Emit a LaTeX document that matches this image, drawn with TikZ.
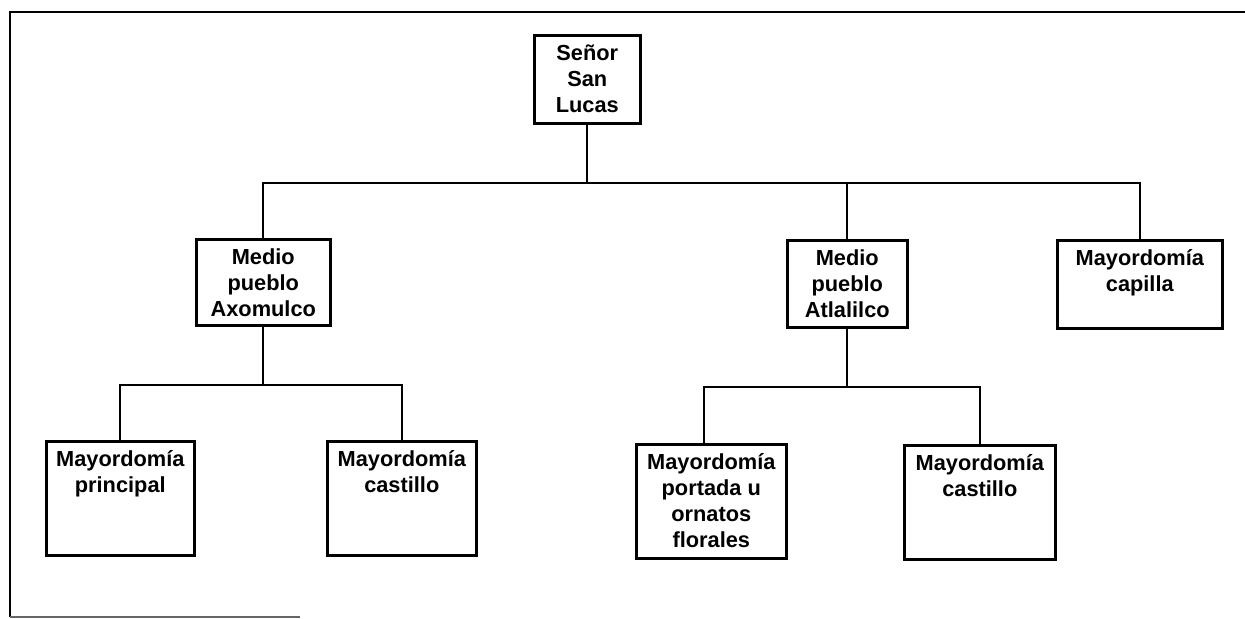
\documentclass[tikz,border=0pt]{standalone}
\usepackage{fontspec}
\setmainfont{Liberation Sans}
\usetikzlibrary{positioning}

% texto alineado arriba dentro de una caja de ancho y alto fijos
\newcommand{\caja}[3]{\parbox[c][#2][t]{#1}{\centering\rule{0pt}{0.5cm}#3}}

\begin{document}
\begin{tikzpicture}[
        x=0.02cm, y=-0.02cm,
        cargo/.style={rectangle, draw=black, line width=1.5pt, inner sep=0pt, anchor=north west,
            font=\fontsize{12.4}{14.8}\selectfont\bfseries},
        rama/.style={draw=black, line width=1.2pt},
        marco/.style={draw=black, line width=1.6pt}
    ]
        \useasboundingbox (0,0) rectangle (1245,619);

        % ================= MARCO =================
        \draw[marco] (1245,12) -- (10,12) -- (10,617);
        \draw[marco, black!60] (10,617) -- (300,617);

        % ================= CARGOS =================

        % Nivel superior
        \node[cargo] (senor) at (533,34) {\caja{2.12cm}{1.76cm}{Señor\\San\\Lucas}};

        % Medios pueblos y capilla
        \node[cargo] (axomulco) at (195,238) {\caja{2.68cm}{1.72cm}{Medio\\pueblo\\Axomulco}};
        \node[cargo] (atlalilco) at (786,239) {\caja{2.40cm}{1.74cm}{Medio\\pueblo\\Atlalilco}};
        \node[cargo] (capilla) at (1056,239) {\caja{3.30cm}{1.76cm}{Mayordomía\\capilla}};

        % Mayordomías
        \node[cargo] (principal) at (45,440) {\caja{2.96cm}{2.28cm}{Mayordomía\\principal}};
        \node[cargo] (castilloA) at (326,440) {\caja{2.98cm}{2.28cm}{Mayordomía\\castillo}};
        \node[cargo] (portada) at (635,443) {\caja{3.00cm}{2.28cm}{Mayordomía\\portada u\\ornatos\\florales}};
        \node[cargo] (castilloB) at (903,444) {\caja{3.02cm}{2.28cm}{Mayordomía\\castillo}};

        % ================= RAMAS =================

        % Desde Señor San Lucas
        \draw[rama] (senor.south) -- ++(0,58) coordinate (barra1);
        \draw[rama] (axomulco.north) |- (barra1) -| (capilla.north);
        \draw[rama] (atlalilco.north) -- (atlalilco.north |- barra1);

        % Desde Axomulco
        \draw[rama] (axomulco.south) -- ++(0,58) coordinate (barra2);
        \draw[rama] (principal.north) |- (barra2) -| (castilloA.north);

        % Desde Atlalilco
        \draw[rama] (atlalilco.south) -- ++(0,58) coordinate (barra3);
        \draw[rama] ([xshift=-0.14cm]portada.north) |- (barra3) -| (castilloB.north);

    \end{tikzpicture}
\end{document}
